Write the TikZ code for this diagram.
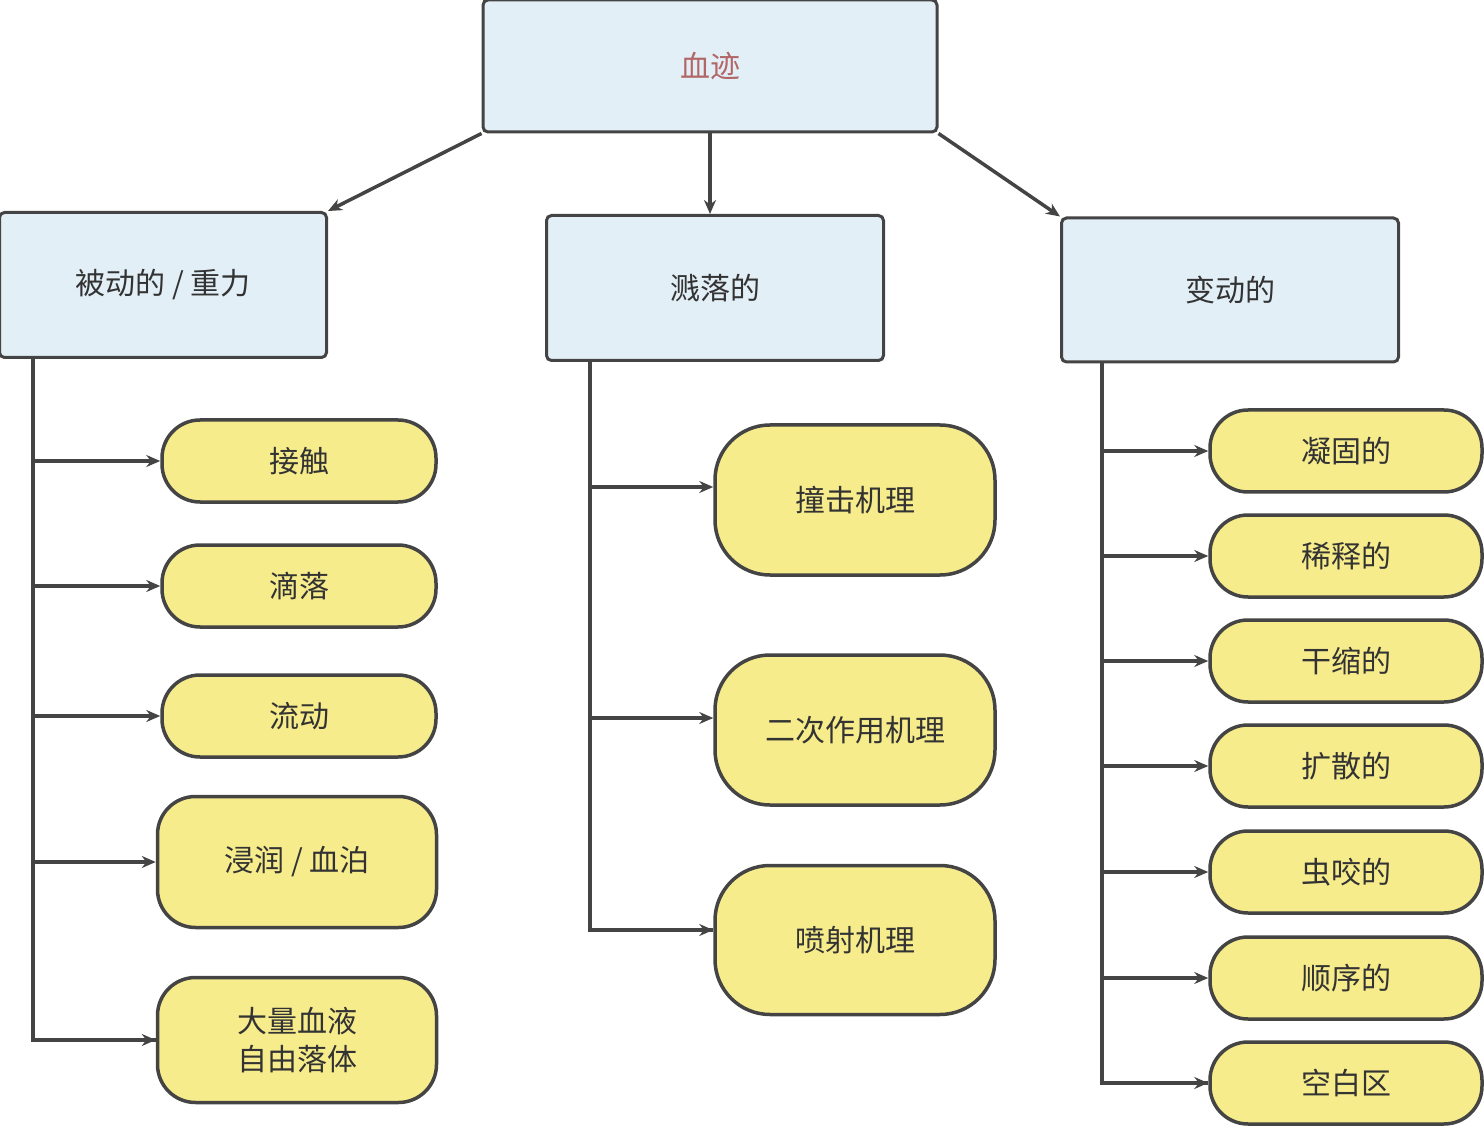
\documentclass[tikz,border=0pt]{standalone}
\usepackage{fontspec}
\setmainfont{Noto Sans CJK SC}
\usetikzlibrary{arrows.meta}
\definecolor{hb}{HTML}{E2EFF7}
\definecolor{py}{HTML}{F7EC8C}
\definecolor{ed}{HTML}{444444}
\begin{document}
\begin{tikzpicture}[x=1pt,y=-1pt,
 hdr/.style={draw=ed,line width=3pt,fill=hb,rounded corners=5pt,font=\fontsize{30}{36}\selectfont,text=black!80},
 pill/.style={draw=ed,line width=3.5pt,fill=py,rounded corners=38pt,font=\fontsize{30}{38}\selectfont,align=center,inner sep=0,text=black!80},
 ln/.style={draw=ed,line width=3.5pt},
 ar/.style={ln,-{Stealth[length=14pt,width=12pt]}}]
\useasboundingbox (0,0) rectangle (1484,1147);
\node[hdr,minimum width=454,minimum height=132,text=red!50!black!60] (top) at (710,66) {血迹};
\node[hdr,minimum width=327,minimum height=145] (L) at (163,285) {被动的 / 重力};
\node[hdr,minimum width=337,minimum height=145] (M) at (715,288) {溅落的};
\node[hdr,minimum width=337,minimum height=144] (R) at (1230,290) {变动的};
\draw[ar] (top.south west) -- (L.north east);
\draw[ar] (top.south) -- (top.south|-M.north);
\draw[ar] (top.south east) -- (R.north west);
% left
\node[pill,minimum width=274,minimum height=82] (l1) at (299,461) {接触};
\node[pill,minimum width=274,minimum height=82] (l2) at (299,586) {滴落};
\node[pill,minimum width=274,minimum height=82] (l3) at (299,716) {流动};
\node[pill,minimum width=279,minimum height=131] (l4) at (297,862) {浸润 / 血泊};
\node[pill,minimum width=279,minimum height=125] (l5) at (297,1040) {大量血液\\自由落体};
\coordinate (lt) at (33,357);
\draw[ln] (lt) |- (l5.west);
\draw[ar] (33,1040) -- (l5.west);
\foreach \n in {l1,l2,l3,l4} \draw[ar] (33,0|-\n.west) -- (\n.west);
% middle
\node[pill,rounded corners=55pt,minimum width=280,minimum height=150] (m1) at (855,500) {撞击机理};
\node[pill,rounded corners=55pt,minimum width=280,minimum height=150] (m2) at (855,730) {二次作用机理};
\node[pill,rounded corners=55pt,minimum width=280,minimum height=149] (m3) at (855,940) {喷射机理};
\coordinate (mt) at (590,360);
\draw[ln] (mt) |- (m3.west|-0,930);
\draw[ar] (590,487) -- (m1.west|-0,487);
\draw[ar] (590,718) -- (m2.west|-0,718);
\draw[ar] (590,930) -- (m3.west|-0,930);
% right
\foreach \t/\y [count=\i] in {凝固的/451,稀释的/556,干缩的/661,扩散的/766,虫咬的/872,顺序的/978,空白区/1083}{
 \node[pill,minimum width=272,minimum height=82] (r\i) at (1346,\y) {\t};
 \draw[ar] (1102,\y) -- (r\i.west);}
\coordinate (rt) at (1102,362);
\draw[ln] (rt) |- (r7.west);
\end{tikzpicture}
\end{document}
